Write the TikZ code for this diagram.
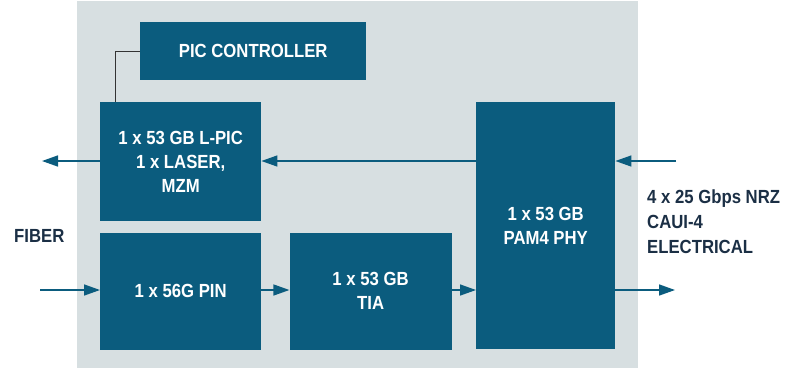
\documentclass[tikz,border=0pt]{standalone}
\usepackage{fontspec}
\setmainfont{Liberation Sans}[FakeStretch=0.88]
\usepackage{tikz}
\usetikzlibrary{arrows.meta, positioning, calc}

\definecolor{blockblue}{HTML}{0B5C7E}
\definecolor{panelgray}{HTML}{D7DFE1}
\definecolor{labelnavy}{HTML}{1B2F45}
\definecolor{linkgray}{HTML}{333333}

\begin{document}
\begin{tikzpicture}[
    x=1pt, y=1pt,
    node distance=11pt,
    block/.style={rectangle, fill=blockblue, text=white, inner sep=0pt, anchor=north west, align=center, font=\fontsize{19}{24}\selectfont\bfseries},
    label/.style={text=labelnavy, inner sep=0pt, align=left, font=\fontsize{19}{25}\selectfont\bfseries},
    arrow/.style={-{Triangle[length=16pt, width=11pt]}, line width=1.5pt, draw=blockblue},
    link/.style={line width=1pt, draw=linkgray}
]
    \useasboundingbox (0,0) rectangle (795,-368);
    \fill[panelgray] (77,-1) rectangle (638,-368);

    \node[block, minimum width=226pt, minimum height=58pt] (ctrl) at (140,-22) {PIC CONTROLLER};
    \node[block, minimum width=161pt, minimum height=119pt] (lpic) at (100,-102) {1 x 53 GB L-PIC\\1 x LASER,\\MZM};
    \node[block, minimum width=161pt, minimum height=117pt, below=of lpic.south west, anchor=north west] (pin) {1 x 56G PIN};
    \node[block, minimum width=162pt, minimum height=117pt, right=28pt of pin.north east, anchor=north west] (tia) {1 x 53 GB\\TIA};
    \node[block, minimum width=139pt, minimum height=247pt] (phy) at (476,-102) {1 x 53 GB\\PAM4 PHY};

    \node[label, anchor=west] (fiber) at (14,-236) {FIBER};
    \node[label, anchor=west] (elec) at (647,-222) {4 x 25 Gbps NRZ\\CAUI-4\\ELECTRICAL};

    \coordinate (fibout) at (42,-161);
    \coordinate (fibin) at (40,-290);
    \coordinate (elin) at (676,-161);
    \coordinate (elout) at (675,-290);

    \draw[link] (ctrl.west) -| ([xshift=15pt]lpic.north west);
    \draw[arrow] (lpic.west |- fibout) -- (fibout);
    \draw[arrow] (phy.west |- fibout) -- (lpic.east |- fibout);
    \draw[arrow] (elin) -- (phy.east |- elin);
    \draw[arrow] (fibin) -- (pin.west |- fibin);
    \draw[arrow] (pin.east |- fibin) -- (tia.west |- fibin);
    \draw[arrow] (tia.east |- fibin) -- (phy.west |- fibin);
    \draw[arrow] (phy.east |- elout) -- (elout);
\end{tikzpicture}
\end{document}
